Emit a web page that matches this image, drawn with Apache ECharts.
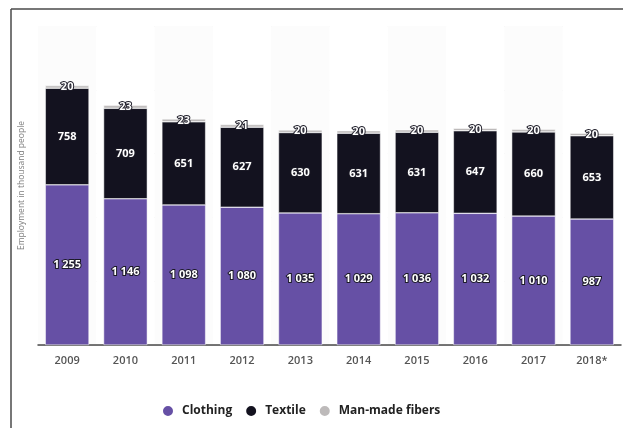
<!DOCTYPE html>
<html>
<head>
<meta charset="utf-8">
<style>
  html, body { margin: 0; padding: 0; background: #ffffff; }
  #chart { width: 623px; height: 428px; }
</style>
<script src="https://cdn.jsdelivr.net/npm/echarts@6/dist/echarts.min.js"></script>
</head>
<body>
<div id="chart"></div>
<script>
// Employment by segment, thousand people
const years = ['2009', '2010', '2011', '2012', '2013', '2014', '2015', '2016', '2017', '2018*'];
const clothing = [1255, 1146, 1098, 1080, 1035, 1029, 1036, 1032, 1010, 987];
const textile = [758, 709, 651, 627, 630, 631, 631, 647, 660, 653];
const manMade = [20, 23, 23, 21, 20, 20, 20, 20, 20, 20];

const FONT = '"Open Sans", "DejaVu Sans", sans-serif';

function spaced(v) {
  return String(v).replace(/\B(?=(\d{3})+(?!\d))/g, ' ');
}

const labelStyle = {
  show: true,
  position: 'inside',
  color: '#ffffff',
  fontFamily: FONT,
  fontSize: 11,
  fontWeight: 'bold',
  textBorderColor: '#1b1a26',
  textBorderWidth: 2,
  formatter: p => spaced(p.value)
};

function seg(name, data, color) {
  return {
    name: name,
    type: 'bar',
    stack: 'total',
    data: data,
    barWidth: '75%',
    itemStyle: { color: color, borderColor: '#ffffff', borderWidth: 0.5 },
    label: labelStyle,
    labelLayout: { hideOverlap: false }
  };
}

const chart = echarts.init(document.getElementById('chart'), null, { renderer: 'canvas' });

chart.setOption({
  animation: false,
  backgroundColor: '#ffffff',
  textStyle: { fontFamily: FONT },
  graphic: [
    { type: 'line', shape: { x1: 11, y1: 9, x2: 11, y2: 428 }, style: { stroke: '#4a4a4a', lineWidth: 1.5 } },
    { type: 'line', shape: { x1: 11, y1: 9, x2: 623, y2: 9 }, style: { stroke: '#4a4a4a', lineWidth: 1.5 } }
  ],
  grid: { left: 38, right: 2, top: 26, bottom: 83, containLabel: false },
  legend: {
    bottom: 5,
    left: 156,
    icon: 'circle',
    itemWidth: 12,
    itemHeight: 12,
    itemGap: 12,
    textStyle: { fontFamily: FONT, fontSize: 12, fontWeight: 'bold', color: '#222222', padding: [0, 0, 0, 3] },
    data: ['Clothing', 'Textile', 'Man-made fibers']
  },
  xAxis: {
    type: 'category',
    data: years,
    axisLine: { show: true, lineStyle: { color: '#4a4a4a', width: 1.5 } },
    axisTick: { show: false },
    axisLabel: { color: '#555555', fontSize: 11, fontWeight: 600, fontFamily: FONT, margin: 10 },
    splitArea: { show: true, areaStyle: { color: ['#fcfcfc', '#ffffff'] } }
  },
  yAxis: {
    type: 'value',
    min: 0,
    max: 2500,
    interval: 500,
    name: 'Employment in thousand people',
    nameLocation: 'middle',
    nameGap: 12,
    nameTextStyle: { color: '#808080', fontSize: 8.5, fontFamily: FONT },
    axisLabel: { show: false },
    axisLine: { show: false },
    axisTick: { show: false },
    splitLine: { show: true, lineStyle: { color: '#ebebeb', width: 1 } }
  },
  series: [
    seg('Clothing', clothing, '#6650a5'),
    seg('Textile', textile, '#13121f'),
    seg('Man-made fibers', manMade, '#bdbaba')
  ]
});
</script>
</body>
</html>
